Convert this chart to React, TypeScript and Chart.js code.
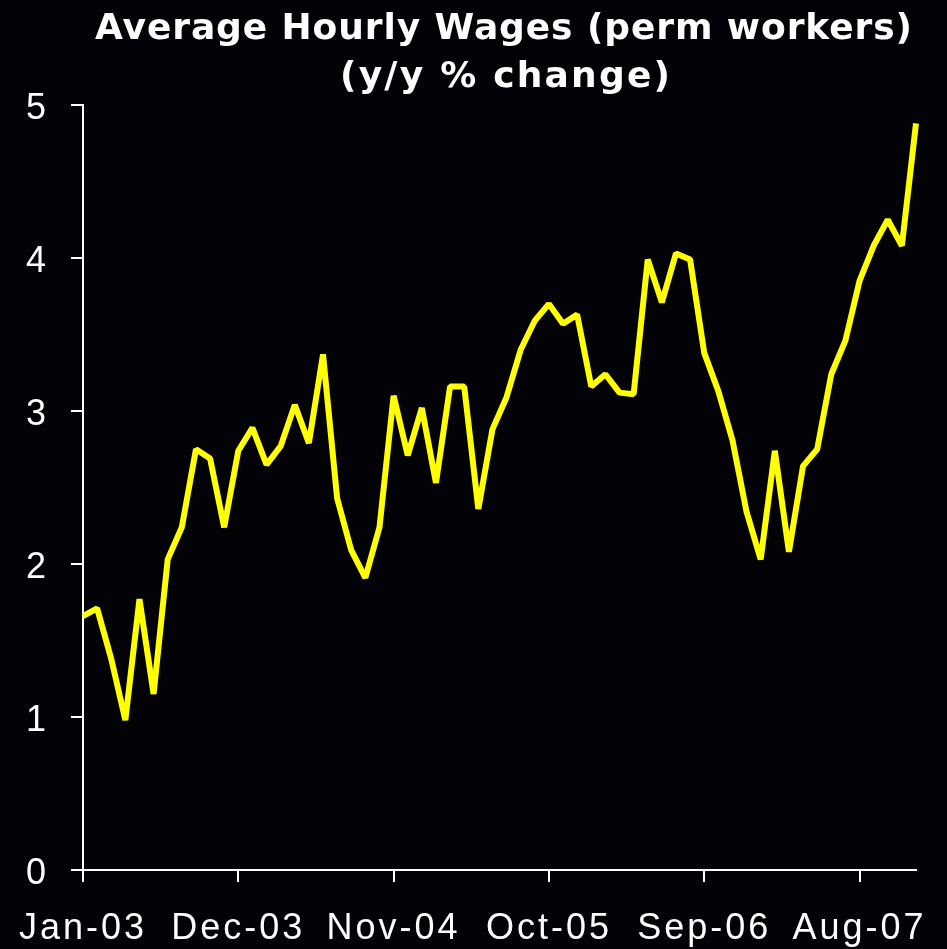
import React, { useEffect, useRef } from 'react';
import { Chart, registerables } from 'chart.js';

Chart.register(...registerables);

const MONTHS = ['Jan', 'Feb', 'Mar', 'Apr', 'May', 'Jun', 'Jul', 'Aug', 'Sep', 'Oct', 'Nov', 'Dec'];
const YEARS = ['03', '04', '05', '06', '07'];
const CATEGORIES = YEARS.flatMap((y) => MONTHS.map((m) => `${m}-${y}`));

const WAGE_GROWTH = [
  1.66, 1.71, 1.38, 0.98, 1.77, 1.15, 2.03, 2.24, 2.75, 2.69,
  2.24, 2.74, 2.89, 2.65, 2.77, 3.04, 2.79, 3.37, 2.43, 2.09,
  1.91, 2.24, 3.10, 2.71, 3.02, 2.53, 3.16, 3.16, 2.36, 2.88,
  3.09, 3.40, 3.59, 3.70, 3.57, 3.63, 3.16, 3.24, 3.12, 3.11,
  3.99, 3.71, 4.03, 3.99, 3.38, 3.13, 2.81, 2.34, 2.03, 2.74,
  2.08, 2.64, 2.75, 3.24, 3.46, 3.85, 4.08, 4.25, 4.08, 4.88,
];

const X_TICK_LABELS = ['Jan-03', 'Dec-03', 'Nov-04', 'Oct-05', 'Sep-06', 'Aug-07'];
const Y_MIN = 0;
const Y_MAX = 5;
const Y_STEP = 1;
const TITLE_LINES = ['Average Hourly Wages (perm workers)', '(y/y % change)'];

const W = 947;
const H = 949;
const BG = '#030207';
const FG = '#ffffff';
const LINE = '#ffff00';
const TICK_FONT = '"Liberation Sans", Arial, sans-serif';
const TITLE_FONT = 'bold 36px "DejaVu Sans", Verdana, sans-serif';
const TITLE_BOXES = [
  { left: 95, right: 912, baseline: 39 },
  { left: 340, right: 670, baseline: 87 },
];

export default function App() {
  const ref = useRef<HTMLCanvasElement>(null);

  useEffect(() => {
    document.body.style.margin = '0';
    document.body.style.background = BG;
    const canvas = ref.current;
    if (!canvas) return;

    const stylePlugin = {
      id: 'stylePlugin',
      beforeUpdate(chart: any) {
        chart.ctx.letterSpacing = '3px';
      },
      beforeDraw(chart: any) {
        const c = chart.ctx;
        c.save();
        c.fillStyle = BG;
        c.fillRect(0, 0, chart.width, chart.height);
        c.restore();
        c.letterSpacing = '3px';
      },
      afterDraw(chart: any) {
        const c = chart.ctx;
        c.save();
        c.font = TITLE_FONT;
        c.fillStyle = FG;
        c.textAlign = 'left';
        c.textBaseline = 'alphabetic';
        TITLE_LINES.forEach((line, i) => {
          const box = TITLE_BOXES[i];
          c.letterSpacing = '0px';
          const natural = c.measureText(line).width;
          const ls = Math.max(0, (box.right - box.left - natural) / (line.length - 1));
          c.letterSpacing = `${ls}px`;
          c.fillText(line, box.left, box.baseline);
        });
        c.restore();
      },
    };

    const chart = new Chart(canvas, {
      type: 'line',
      data: {
        labels: CATEGORIES,
        datasets: [
          {
            data: WAGE_GROWTH,
            borderColor: LINE,
            backgroundColor: LINE,
            borderWidth: 6,
            pointRadius: 0,
            tension: 0,
            borderJoinStyle: 'bevel',
            fill: false,
          },
        ],
      },
      options: {
        animation: false,
        responsive: false,
        devicePixelRatio: 1,
        layout: { padding: { top: 105, right: 31, bottom: 0, left: 0 } },
        plugins: {
          legend: { display: false },
          tooltip: { enabled: false },
          title: { display: false },
        },
        scales: {
          x: {
            type: 'category',
            offset: false,
            afterFit: (scale: any) => {
              scale.height = 79;
              scale.paddingLeft = 0;
              scale.paddingRight = 0;
            },
            border: { display: true, color: FG, width: 2 },
            grid: {
              drawOnChartArea: false,
              drawTicks: true,
              tickLength: 12,
              lineWidth: 2,
              color: (ctx: any) =>
                X_TICK_LABELS.includes(CATEGORIES[ctx.index]) ? FG : 'rgba(0,0,0,0)',
            },
            ticks: {
              autoSkip: false,
              maxRotation: 0,
              minRotation: 0,
              padding: 25,
              color: FG,
              font: { family: TICK_FONT, size: 36 },
              callback: (_v: any, index: number) =>
                X_TICK_LABELS.includes(CATEGORIES[index]) ? CATEGORIES[index] : '',
            },
          },
          y: {
            min: Y_MIN,
            max: Y_MAX,
            afterFit: (scale: any) => {
              scale.width = 83;
            },
            border: { display: true, color: FG, width: 2 },
            grid: {
              drawOnChartArea: false,
              drawTicks: true,
              tickLength: 12,
              lineWidth: 2,
              color: FG,
            },
            ticks: {
              stepSize: Y_STEP,
              padding: 22,
              labelOffset: 4,
              color: FG,
              font: { family: TICK_FONT, size: 36 },
            },
          },
        },
      },
      plugins: [stylePlugin],
    } as any);

    return () => chart.destroy();
  }, []);

  return (
    <div style={{ position: 'fixed', left: 0, top: 0, width: W, height: H, background: BG }}>
      <canvas ref={ref} width={W} height={H} style={{ display: 'block', width: W, height: H }} />
    </div>
  );
}
